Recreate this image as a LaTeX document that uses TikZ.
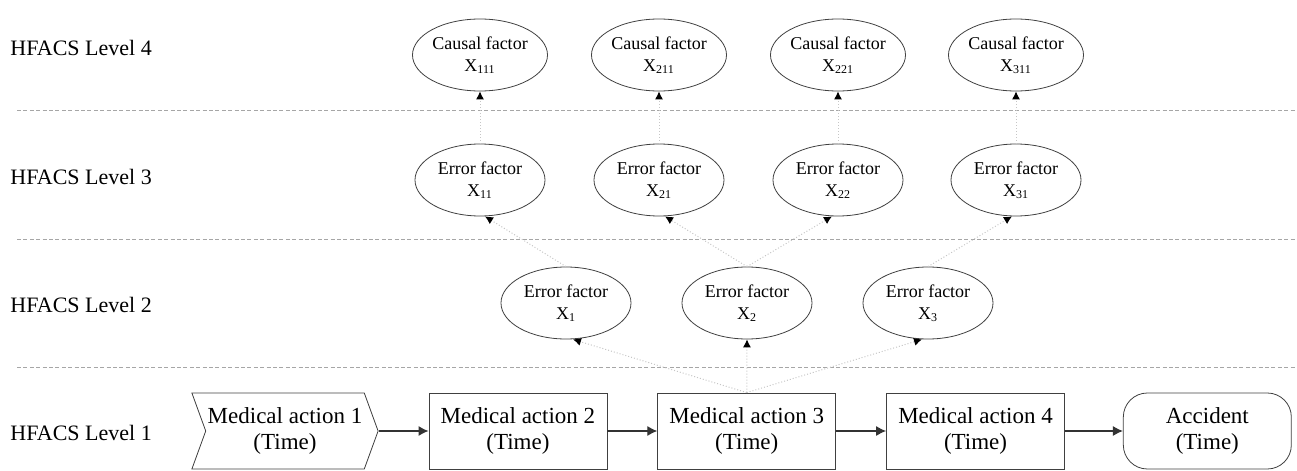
\documentclass[tikz,border=0pt]{standalone}
\usepackage{fontspec}
\setmainfont{Liberation Serif}
\usepackage{tikz}
\usetikzlibrary{positioning,shapes.geometric,shapes.symbols,arrows.meta}

\tikzset{
  action/.style={rectangle, draw=black!75, minimum width=89pt, minimum height=38pt, inner sep=1pt, align=center, font=\fontsize{11.5}{13}\selectfont},
  factor/.style={ellipse, draw=black!75, minimum width=65pt, minimum height=36pt, inner sep=0pt, align=center, font=\fontsize{9}{11}\selectfont},
  level/.style={anchor=west, inner sep=0pt, font=\fontsize{11}{13}\selectfont},
  sep/.style={draw=gray!70, dash pattern=on 2pt off 1.2pt, line width=0.5pt},
  link/.style={draw=gray!45, densely dotted, line width=0.5pt, -{Latex[color=black, length=4pt, width=4pt]}},
  flow/.style={draw=black!80, line width=0.6pt, -{Latex[length=5pt, width=5pt]}}
}

\begin{document}
\begin{tikzpicture}[x=0.5pt, y=-0.5pt, node distance=25pt]
\useasboundingbox (0,0) rectangle (1297,471);

% level names
\node[level] (lv4) at (10,48) {HFACS Level 4};
\node[level] (lv3) at (10,177) {HFACS Level 3};
\node[level] (lv2) at (10,305) {HFACS Level 2};
\node[level] (lv1) at (10,433) {HFACS Level 1};

% separators
\draw[sep] (17,110) -- (1297,110);
\draw[sep] (17,239) -- (1297,239);
\draw[sep] (17,367) -- (1297,367);

% level 4
\node[factor] (x111) at (480,55) {Causal factor\\X\textsubscript{111}};
\node[factor] (x211) at (659,55) {Causal factor\\X\textsubscript{211}};
\node[factor] (x221) at (838,55) {Causal factor\\X\textsubscript{221}};
\node[factor] (x311) at (1016,55) {Causal factor\\X\textsubscript{311}};

% level 3
\node[factor] (x11) at (480,180) {Error factor\\X\textsubscript{11}};
\node[factor] (x21) at (659,180) {Error factor\\X\textsubscript{21}};
\node[factor] (x22) at (838,180) {Error factor\\X\textsubscript{22}};
\node[factor] (x31) at (1016,180) {Error factor\\X\textsubscript{31}};

% level 2
\node[factor] (x1) at (566,303) {Error factor\\X\textsubscript{1}};
\node[factor] (x2) at (747,303) {Error factor\\X\textsubscript{2}};
\node[factor] (x3) at (928,303) {Error factor\\X\textsubscript{3}};

% level 1
\node[signal, signal from=west, signal to=east, signal pointer angle=140, draw=black!75, minimum width=90.5pt, minimum height=38pt, inner sep=1pt, align=center, font=\fontsize{11.5}{13}\selectfont] (m1) at (285,431) {Medical action 1\\(Time)};
\node[action, right=of m1] (m2) {Medical action 2\\(Time)};
\node[action, right=of m2] (m3) {Medical action 3\\(Time)};
\node[action, right=of m3] (m4) {Medical action 4\\(Time)};
\node[action, rounded corners=12pt, minimum width=84pt, right=29pt of m4] (acc) {Accident\\(Time)};

\draw[flow] (m1.east) -- (m2);
\draw[flow] (m2) -- (m3);
\draw[flow] (m3) -- (m4);
\draw[flow] (m4) -- (acc);

% error links
\draw[link] (m3.north) -- ([xshift=3.5pt]x1.south);
\draw[link] (m3.north) -- (x2.south);
\draw[link] (m3.north) -- ([xshift=-3pt]x3.south);
\draw[link] (x1.north) -- ([xshift=2.5pt]x11.south);
\draw[link] (x2.north) -- ([xshift=3pt]x21.south);
\draw[link] (x2.north) -- ([xshift=-3pt]x22.south);
\draw[link] (x3.north) -- ([xshift=-2pt]x31.south);
\draw[link] (x11.north) -- (x111.south);
\draw[link] (x21.north) -- (x211.south);
\draw[link] (x22.north) -- (x221.south);
\draw[link] (x31.north) -- (x311.south);
\end{tikzpicture}
\end{document}
